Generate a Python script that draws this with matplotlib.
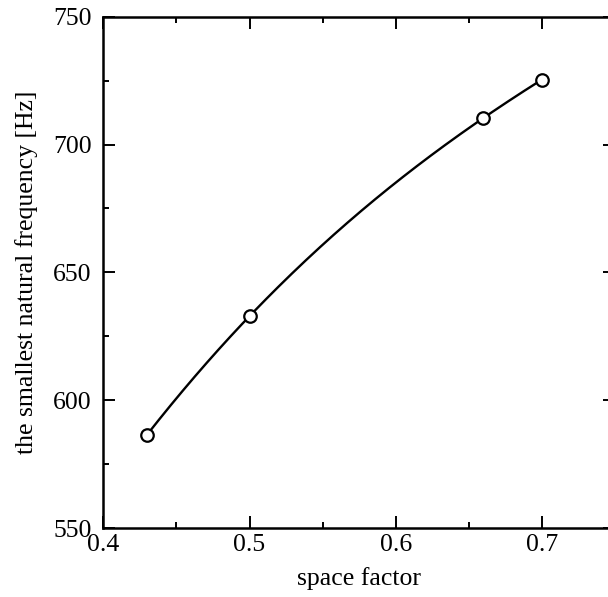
"""Smallest natural frequency vs space factor, redrawn with matplotlib."""

import numpy as np
import matplotlib

matplotlib.use("Agg")
import matplotlib.pyplot as plt
from matplotlib.ticker import MultipleLocator

# data
space_factor = [0.43, 0.50, 0.66, 0.70]
frequency_hz = [586.6, 632.9, 710.4, 725.4]

x_ticks = [0.4, 0.5, 0.6, 0.7]
y_ticks = [550, 600, 650, 700, 750]

plt.rcParams["font.family"] = ["Liberation Serif", "DejaVu Serif"]

fig = plt.figure(figsize=(6.08, 5.97), dpi=100)
# right spine (x = 0.75) sits just past the cropped image edge
ax = fig.add_axes([0.170, 0.1154, 0.8415, 0.8566])

# smooth curve through the measured points
coef = np.polyfit(space_factor, frequency_hz, 3)
xs = np.linspace(space_factor[0], space_factor[-1], 200)
ax.plot(xs, np.polyval(coef, xs), color="black", lw=1.7, zorder=2)
ax.plot(space_factor, frequency_hz, "o", ms=9, mfc="white", mec="black",
        mew=1.6, zorder=3)

ax.set_xlim(0.4, 0.75)
ax.set_ylim(550, 750)
ax.set_xticks(x_ticks)
ax.set_yticks(y_ticks)
ax.set_xticklabels([f"{v:.1f}" for v in x_ticks])
ax.set_yticklabels([str(v) for v in y_ticks])
ax.xaxis.set_minor_locator(MultipleLocator(0.05))
ax.yaxis.set_minor_locator(MultipleLocator(25))

ax.tick_params(which="both", direction="in", top=True, right=True,
               width=1.4, labelsize=18.5)
ax.tick_params(axis="x", which="major", length=8.5, pad=4.5)
ax.tick_params(axis="y", which="major", length=8.5, pad=8.5)
ax.tick_params(which="minor", length=4.3)
for sp in ax.spines.values():
    sp.set_linewidth(1.8)

ax.set_xlabel("space factor", fontsize=18.5, labelpad=8)
ax.set_ylabel("the smallest natural frequency [Hz]", fontsize=18.5,
              labelpad=11)

fig.savefig("out.png", dpi=100)
